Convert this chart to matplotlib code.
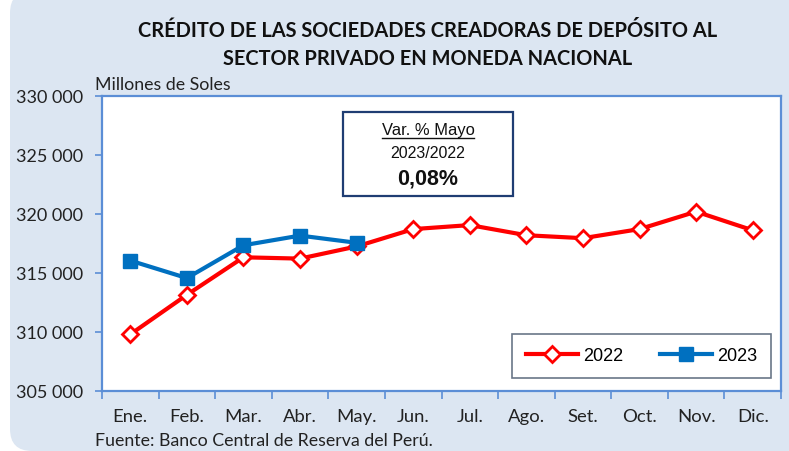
import matplotlib
matplotlib.use("Agg")
import matplotlib.pyplot as plt
from matplotlib.patches import FancyBboxPatch, Rectangle
import numpy as np

months = ["Ene.", "Feb.", "Mar.", "Abr.", "May.", "Jun.", "Jul.", "Ago.", "Set.", "Oct.", "Nov.", "Dic."]
s2022 = [309800, 313150, 316330, 316220, 317250, 318720, 319060, 318200, 317950, 318720, 320200, 318620]
s2023 = [316050, 314570, 317350, 318170, 317560]
yticks = [305000, 310000, 315000, 320000, 325000, 330000]

W, H = 789, 452
fig = plt.figure(figsize=(W / 100, H / 100), dpi=100)
fig.patch.set_facecolor("white")

def px(x, y):
    return x / W, 1 - y / H

# background rounded panel
bg = FancyBboxPatch((10 / 100, 0 / 100), (W + 20 - 10) / 100, (H - 12 + 20) / 100,
                    boxstyle="round,pad=0,rounding_size=0.22",
                    transform=fig.dpi_scale_trans, facecolor="#DCE6F2",
                    edgecolor="none", zorder=-1)
fig.patches.append(bg)

L, R, T, B = 102, 781, 97, 392
ax = fig.add_axes([L / W, 1 - B / H, (R - L) / W, (B - T) / H])
ax.set_zorder(1)
ax.set_facecolor("white")
axis_col = "#5B8ED6"
for sp in ax.spines.values():
    sp.set_color(axis_col)
    sp.set_linewidth(1.6)

x = np.arange(len(months))
ax.plot(x, s2022, color="#FF0000", lw=3, marker="D", ms=8, mfc="white",
        mec="#FF0000", mew=2, label="2022", zorder=3)
ax.plot(np.arange(len(s2023)), s2023, color="#0070C0", lw=3, marker="s", ms=10,
        mfc="#0070C0", mec="#0070C0", label="2023", zorder=4)

ax.set_xlim(-0.5, 11.5)
ax.set_ylim(305000, 330000)
ax.set_yticks(yticks)
ax.set_yticklabels([f"{v:,}".replace(",", " ") for v in yticks],
                   fontsize=13, family="Lato", color="#222222")
ax.tick_params(axis="y", direction="out", length=5, color=axis_col, width=1.2, pad=8.5)
ax.set_xticks(x)
ax.set_xticklabels(months, fontsize=13.3, family="Lato", color="#222222")
ax.set_xticks(np.arange(-0.5, 12, 1), minor=True)
ax.tick_params(axis="x", which="major", length=0, pad=12)
ax.tick_params(axis="x", which="minor", direction="out", length=6, color=axis_col, width=1.2)

leg = ax.legend(loc="lower right", bbox_to_anchor=((771 - L) / (R - L), (B - 379) / (B - T)),
                ncol=2, frameon=True, fancybox=False, borderaxespad=0,
                handlelength=2.9, handletextpad=0.3, columnspacing=2.0, borderpad=0.75,
                prop={"family": "Liberation Sans", "size": 13})
leg.get_frame().set_edgecolor("#44546A")
leg.get_frame().set_linewidth(1.2)

# annotation box
bx0, by0, bx1, by1 = 343, 113, 513, 197
box = Rectangle(px(bx0, by1), (bx1 - bx0) / W, (by1 - by0) / H, transform=fig.transFigure,
                facecolor="white", edgecolor="#1F3D73", lw=1.6, zorder=5)
fig.patches.append(box)
cx = (bx0 + bx1) / 2 / W
fig.text(cx, px(0, 131)[1], "Var. % Mayo", ha="center", va="center", fontsize=11.9,
         family="Liberation Sans", color="#111111", zorder=6)
fig.add_artist(plt.Line2D([px(382, 0)[0], px(474, 0)[0]], [px(0, 139)[1]] * 2,
                          transform=fig.transFigure, color="#111111", lw=1, zorder=6))
fig.text(cx, px(0, 153)[1], "2023/2022", ha="center", va="center", fontsize=11.5,
         family="Liberation Sans", color="#111111", zorder=6)
fig.text(cx, px(0, 179)[1], "0,08%", ha="center", va="center", fontsize=15.5,
         family="Liberation Sans", weight="bold", color="#111111", zorder=6)

# titles
fig.text(px(428, 0)[0], px(0, 31)[1], "CRÉDITO DE LAS SOCIEDADES CREADORAS DE DEPÓSITO AL",
         ha="center", va="center", fontsize=14.4, weight="bold", family="Lato", color="#111111")
fig.text(px(428, 0)[0], px(0, 59)[1], "SECTOR PRIVADO EN MONEDA NACIONAL",
         ha="center", va="center", fontsize=14.4, weight="bold", family="Lato", color="#111111")
fig.text(px(95, 0)[0], px(0, 85)[1], "Millones de Soles", ha="left", va="center",
         fontsize=12.8, family="Lato", color="#222222")
fig.text(px(95, 0)[0], px(0, 441)[1], "Fuente: Banco Central de Reserva del Perú.", ha="left",
         va="center", fontsize=12.8, family="Lato", color="#222222")

fig.savefig("out.png", dpi=100, facecolor=fig.get_facecolor())
